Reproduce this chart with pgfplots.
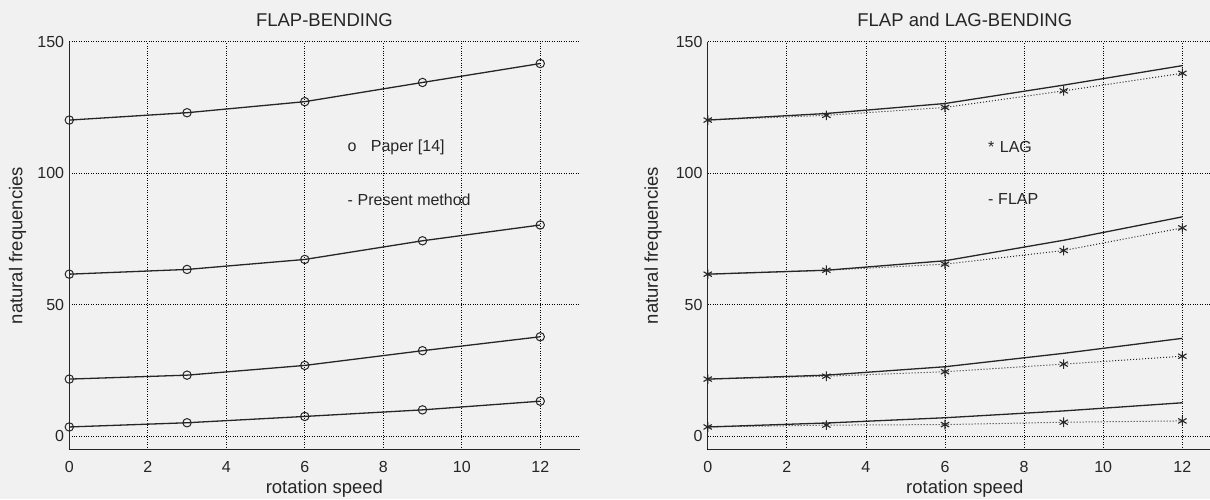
\documentclass[border=0pt]{standalone}
\usepackage{pgfplots}
\pgfplotsset{compat=1.18}
\usepackage{fontspec}
\setmainfont{Liberation Sans}
\definecolor{ink}{HTML}{262626}
\definecolor{paper}{HTML}{F1F1F1}
\tikzset{note/.style={anchor=west, text=ink, font=\fontsize{16}{19}\selectfont}}
\begin{document}
\begin{tikzpicture}
\fill[paper] (0,0) rectangle (1210pt,-499pt);
\pgfplotsset{
  every axis title shift=0pt,
  every axis/.append style={
    scale only axis,
    xmin=0, xmax=13, ymin=-5, ymax=150,
    xtick={0,2,4,6,8,10,12}, ytick={0,50,100,150},
    axis x line*=bottom, axis y line*=left,
    axis line style={ink, line width=1.2pt},
    major tick length=0pt,
    grid=major,
    major grid style={black, dotted, line width=0.8pt},
    /pgf/number format/assume math mode=true,
    tick label style={font=\fontsize{16}{19}\selectfont, text=ink},
    xticklabel style={anchor=base, yshift=-22.7pt},
    yticklabel style={anchor=east, inner sep=0pt, xshift=-5pt},
    title style={font=\fontsize{18.5}{22}\selectfont, text=ink},
    label style={font=\fontsize{18.5}{22}\selectfont, text=ink},
    clip=false,
  },
  flap/.style={ink, line width=1.3pt, mark=o, mark size=4.2pt, mark options={solid, line width=1pt}},
  flaponly/.style={ink, line width=1.3pt, mark=none},
  lag/.style={ink, dotted, line width=1pt, mark=asterisk, mark size=4.8pt, mark options={solid, line width=1.1pt}},
}
% ---------- Left panel ----------
\begin{axis}[
  at={(69.3pt,-449.3pt)}, anchor=south west,
  width=510.2pt, height=407.6pt,
  title={FLAP-BENDING},
  title style={at={(axis description cs:0.5,1.0383)}, anchor=base},
  xlabel={rotation speed},
  xlabel style={at={(axis description cs:0.5,-0.108)}, anchor=base},
  ylabel={natural frequencies},
  ylabel style={at={(axis description cs:-0.1015,0.5)}, anchor=center},
]
\addplot[flap] coordinates {(0,3.5) (3,5.1) (6,7.5) (9,10.0) (12,13.3)};
\addplot[flap] coordinates {(0,21.7) (3,23.2) (6,26.9) (9,32.5) (12,37.8)};
\addplot[flap] coordinates {(0,61.6) (3,63.4) (6,67.2) (9,74.3) (12,80.3)};
\addplot[flap] coordinates {(0,120.2) (3,123.0) (6,127.2) (9,134.5) (12,141.7)};
\node[note] at (axis cs:7,110) {o\hspace{0.9em}Paper [14]};
\node[note] at (axis cs:7,90) {-\hspace{0.3em}Present method};
\end{axis}
% ---------- Right panel ----------
\begin{axis}[
  at={(707.7pt,-449.3pt)}, anchor=south west,
  width=514.2pt, height=407.6pt,
  title={FLAP and LAG-BENDING},
  title style={at={(axis description cs:0.5,1.0383)}, anchor=base},
  xlabel={rotation speed},
  xlabel style={at={(axis description cs:0.5,-0.108)}, anchor=base},
  ylabel={natural frequencies},
  ylabel style={at={(axis description cs:-0.1064,0.5)}, anchor=center},
]
% FLAP (solid)
\addplot[flaponly] coordinates {(0,3.5) (3,5.0) (6,7.0) (9,9.6) (12,12.7)};
\addplot[flaponly] coordinates {(0,21.7) (3,23.2) (6,26.4) (9,31.5) (12,37.2)};
\addplot[flaponly] coordinates {(0,61.6) (3,63.1) (6,66.7) (9,74.5) (12,83.4)};
\addplot[flaponly] coordinates {(0,120.2) (3,122.7) (6,126.5) (9,133.5) (12,140.9)};
% LAG (dotted with asterisks)
\addplot[lag] coordinates {(0,3.5) (3,4.2) (6,4.4) (9,5.3) (12,5.8)};
\addplot[lag] coordinates {(0,21.7) (3,22.8) (6,24.5) (9,27.4) (12,30.4)};
\addplot[lag] coordinates {(0,61.6) (3,63.1) (6,65.4) (9,70.6) (12,79.2)};
\addplot[lag] coordinates {(0,120.2) (3,122.0) (6,125.0) (9,131.3) (12,138.0)};
\node[note] at (axis cs:7,110) {*\hspace{0.35em}LAG};
\node[note] at (axis cs:7,90) {-\hspace{0.3em}FLAP};
\end{axis}
\pgfresetboundingbox
\path[use as bounding box] (0,0) rectangle (1210pt,-499pt);
\end{tikzpicture}
\end{document}
